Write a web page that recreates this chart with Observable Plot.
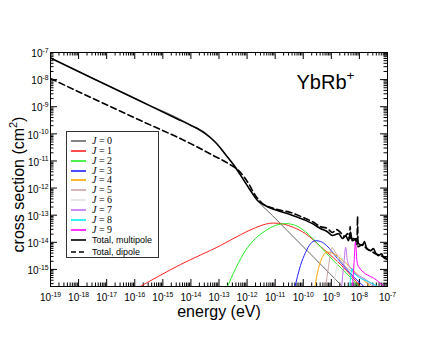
<!DOCTYPE html>
<html><head><meta charset="utf-8">
<script src="https://cdn.jsdelivr.net/npm/d3@7"></script>
<script src="https://cdn.jsdelivr.net/npm/@observablehq/plot@0.6"></script>
<style>
body{margin:0;background:#fff;}
#wrap{position:relative;width:436px;height:337px;font-family:"Liberation Sans",Arial,sans-serif;}
#legend{position:absolute;left:66px;top:131px;width:93px;height:127px;border:1px solid #333;box-sizing:border-box;background:#fff;}
.row{position:absolute;left:0;height:10px;line-height:10px;white-space:nowrap;}
.row svg{position:absolute;left:4px;top:0;}
.row span{position:absolute;left:25px;top:0;font-size:9px;color:#000;}
.row span.j{font-family:"Liberation Serif","Times New Roman",serif;font-size:10px;}
</style></head>
<body><div id="wrap"><div id="legend"></div></div>
<script>
// values stored as [log10(energy / eV), log10(cross section / cm^2)]
const totalMultipole = [[-19,-7.2],[-17.58,-7.91],[-15.79,-8.8],[-14.5,-9.44],[-14.01,-9.68],[-13.48,-9.99],[-13.12,-10.32],[-12.77,-10.76],[-12.41,-11.24],[-12.13,-11.69],[-11.88,-12.09],[-11.63,-12.46],[-11.34,-12.65],[-10.92,-12.83],[-10.45,-12.98],[-9.99,-13.16],[-9.67,-13.31],[-9.39,-13.49],[-9.14,-13.61],[-8.96,-13.75],[-8.74,-13.68],[-8.6,-13.86],[-8.49,-13.75],[-8.39,-13.94],[-8.32,-13.64],[-8.25,-13.94],[-8.1,-13.86],[-8.03,-14.05],[-7.89,-14.12],[-7.82,-13.97],[-7.75,-14.2],[-7.6,-14.31],[-7.5,-14.23],[-7.43,-14.38],[-7.32,-14.49],[-7.21,-14.42],[-7.14,-14.56],[-7.0,-14.64]];
const totalDipole = [[-19,-7.96],[-17.58,-8.65],[-15.79,-9.51],[-14.01,-10.36],[-13.2,-10.8],[-12.66,-11.1],[-12.23,-11.43],[-11.95,-11.83],[-11.7,-12.28],[-11.45,-12.57],[-10.92,-12.79],[-10.45,-12.9],[-9.99,-13.09],[-9.67,-13.24],[-9.39,-13.42],[-9.14,-13.49],[-8.96,-13.64],[-8.82,-13.53],[-8.67,-13.64],[-8.53,-13.79],[-8.42,-13.68],[-8.35,-13.86],[-8.33,-13.42],[-8.3,-13.94],[-8.21,-13.86],[-8.1,-14.01],[-8.085,-14.08],[-8.067,-13.05],[-8.049,-14.16],[-7.89,-14.08],[-7.75,-14.23],[-7.6,-14.31],[-7.43,-14.42],[-7.25,-14.49],[-7.0,-14.6]];
const J0 = [[-19,-7.2],[-17.58,-7.91],[-15.79,-8.8],[-14.01,-9.68],[-13.12,-10.32],[-12.13,-11.69],[-11.63,-12.46],[-11.09,-13.02],[-10.57,-13.57],[-9.63,-14.55],[-8.49,-15.75]];
const J1 = [[-15.94,-15.71],[-14.37,-14.82],[-12.95,-14.12],[-12.23,-13.72],[-11.7,-13.46],[-11.34,-13.33],[-11.06,-13.29],[-10.7,-13.33],[-10.35,-13.45],[-9.92,-13.68],[-9.38,-14.16],[-8.67,-14.82],[-7.89,-15.71]];
const J2 = [[-12.73,-15.71],[-12.41,-14.97],[-12.06,-14.31],[-11.7,-13.86],[-11.34,-13.57],[-10.99,-13.38],[-10.63,-13.31],[-10.27,-13.38],[-9.92,-13.61],[-9.49,-14.05],[-8.92,-14.68],[-8.32,-15.29],[-7.96,-15.71]];
const J3 = [[-10.31,-15.71],[-10.1,-14.86],[-9.92,-14.38],[-9.74,-14.05],[-9.56,-13.94],[-9.38,-13.97],[-9.17,-14.12],[-8.78,-14.6],[-8.21,-15.27],[-7.75,-15.71]];
const J4 = [[-9.6,-15.71],[-9.46,-14.97],[-9.31,-14.53],[-9.14,-14.36],[-8.92,-14.42],[-8.67,-14.6],[-8.21,-15.04],[-7.6,-15.64],[-7.53,-15.71]];
const J5 = [[-9.21,-15.71],[-9.1,-14.9],[-8.98,-14.2],[-8.85,-14.38],[-8.67,-14.68],[-7.96,-15.29],[-7.39,-15.71]];
const J6 = [[-8.92,-15.71],[-8.82,-14.97],[-8.71,-14.45],[-8.57,-14.68],[-8.32,-14.97],[-7.78,-15.41],[-7.25,-15.71]];
const J7 = [[-8.64,-15.71],[-8.55,-14.75],[-8.49,-14.18],[-8.44,-14.6],[-8.35,-14.9],[-7.72,-15.41],[-7.32,-15.71]];
const J8 = [[-8.35,-15.71],[-8.26,-14.97],[-8.21,-15.12],[-7.6,-15.49],[-7.18,-15.71]];
const J9 = [[-8.25,-15.71],[-8.19,-14.75],[-8.14,-13.97],[-8.09,-14.68],[-8.03,-14.9],[-7.37,-15.41],[-7.03,-15.71]];
const partialWaves = [J0,J1,J2,J3,J4,J5,J6,J7,J8,J9];
const waveLabels = ["0","1","2","3","4","5","6","7","8","9"];
const waveColors = ["#666666","#ff2020","#22ee22","#2020ff","#ffa500","#c8a4a4","#e2e2e2","#c070f0","#00f0f0","#ff00ff"];
const totalLabels = ["Total, multipole","Total, dipole"];
const xExponents = [-19,-18,-17,-16,-15,-14,-13,-12,-11,-10,-9,-8,-7];
const yExponents = [-15,-14,-13,-12,-11,-10,-9,-8,-7];
const xDomainLog = [-19,-7];
const yDomainLog = [-15.63,-7];
const titleText = "YbRb^+";
const xLabel = "energy (eV)";
const yLabel = "cross section (cm^2)";

const W=436,H=337,mL=50,mR=49,mT=52,mB=51;
const innerW=W-mL-mR, innerH=H-mT-mB;
const toPts = arr => arr.map(([e,s])=>({E:10**e,S:10**s}));
const xDomain = xDomainLog.map(v=>10**v), yDomain = yDomainLog.map(v=>10**v);
const xMajor = xExponents.map(e=>10**e);
const yMajor = yExponents.map(e=>10**e);
const minorOf = (lo,hi)=>{const out=[];for(let e=Math.floor(lo);e<Math.ceil(hi);e++)for(let k=2;k<=9;k++){const v=k*10**e;if(Math.log10(v)>lo&&Math.log10(v)<hi)out.push(v);}return out;};
const xMinor = minorOf(xDomainLog[0],xDomainLog[1]);
const yMinor = minorOf(yDomainLog[0],yDomainLog[1]);
const MAJ=7, MIN=3.5;

const marks = [];
marks.push(Plot.tickX(xMajor,{x:d=>d,insetTop:innerH-MAJ,stroke:"#000"}));
marks.push(Plot.tickX(xMajor,{x:d=>d,insetBottom:innerH-MAJ,stroke:"#000"}));
marks.push(Plot.tickX(xMinor,{x:d=>d,insetTop:innerH-MIN,stroke:"#000"}));
marks.push(Plot.tickX(xMinor,{x:d=>d,insetBottom:innerH-MIN,stroke:"#000"}));
marks.push(Plot.tickY(yMajor,{y:d=>d,insetRight:innerW-MAJ,stroke:"#000"}));
marks.push(Plot.tickY(yMajor,{y:d=>d,insetLeft:innerW-MAJ,stroke:"#000"}));
marks.push(Plot.tickY(yMinor,{y:d=>d,insetRight:innerW-MIN,stroke:"#000"}));
marks.push(Plot.tickY(yMinor,{y:d=>d,insetLeft:innerW-MIN,stroke:"#000"}));
partialWaves.forEach((w,i)=>{
  marks.push(Plot.line(toPts(w),{x:"E",y:"S",stroke:waveColors[i],strokeWidth:1,curve:"monotone-x",clip:true}));
});
marks.push(Plot.line(toPts(totalDipole),{x:"E",y:"S",stroke:"#000",strokeWidth:1.6,strokeDasharray:"6,3.5",curve:"monotone-x",clip:true}));
marks.push(Plot.line(toPts(totalMultipole),{x:"E",y:"S",stroke:"#000",strokeWidth:1.6,curve:"monotone-x",clip:true}));
marks.push(Plot.frame({stroke:"#000",strokeWidth:1}));
marks.push(Plot.text(xMajor,{x:d=>d,y:yDomain[0],text:d=>"10^"+Math.round(Math.log10(d)),dy:11,fontSize:10,textAnchor:"middle",lineAnchor:"middle",fill:"#000"}));
marks.push(Plot.text(yMajor,{x:xDomain[0],y:d=>d,text:d=>"10^"+Math.round(Math.log10(d)),dx:-2,dy:1.5,fontSize:10,textAnchor:"end",lineAnchor:"middle",fill:"#000"}));
marks.push(Plot.text([titleText],{frameAnchor:"top-left",text:d=>d,dx:246,dy:29.6,fontSize:20,textAnchor:"start",lineAnchor:"middle",fill:"#000"}));
marks.push(Plot.text([xLabel],{frameAnchor:"bottom",text:d=>d,dy:25,fontSize:16,textAnchor:"middle",lineAnchor:"middle",fill:"#000"}));
marks.push(Plot.text([yLabel],{frameAnchor:"left",text:d=>d,dx:-32,dy:15,fontSize:16,rotate:-90,textAnchor:"middle",lineAnchor:"middle",fill:"#000"}));

const chart = Plot.plot({
  width:W,height:H,marginLeft:mL,marginRight:mR,marginTop:mT,marginBottom:mB,
  x:{type:"log",domain:xDomain,axis:null},
  y:{type:"log",domain:yDomain,axis:null},
  style:{fontFamily:"'Liberation Sans',Arial,sans-serif",background:"#fff",color:"#000"},
  marks
});
const wrap=document.getElementById("wrap");
wrap.insertBefore(chart, wrap.firstChild);

const NS="http://www.w3.org/2000/svg";
chart.querySelectorAll("text").forEach(t=>{
  const s=t.textContent;
  const m=s.match(/^([^^]*)\^([-+\w]+)(.*)$/);
  if(!m) return;
  const fs=parseFloat(getComputedStyle(t).fontSize)||10;
  t.textContent="";
  const a=document.createElementNS(NS,"tspan");a.textContent=m[1];t.appendChild(a);
  const b=document.createElementNS(NS,"tspan");b.textContent=m[2];
  b.setAttribute("font-size",(fs*0.68).toFixed(1));b.setAttribute("dy",(-fs*0.42).toFixed(1));t.appendChild(b);
  if(m[3]){const c=document.createElementNS(NS,"tspan");c.textContent=m[3];c.setAttribute("dy",(fs*0.42).toFixed(1));t.appendChild(c);}
});

const legend=document.getElementById("legend");
const rows=[];
waveLabels.forEach((l,i)=>rows.push({html:'<i>J</i> = '+l,color:waveColors[i],dash:null,cls:"j",w:1.6,top:4+i*9.85}));
rows.push({html:totalLabels[0],color:"#000",dash:null,cls:"",w:1.6,top:103});
rows.push({html:totalLabels[1],color:"#000",dash:"5,3",cls:"",w:1.6,top:114.5});
rows.forEach(r=>{
  const d=document.createElement("div");d.className="row";d.style.top=r.top+"px";
  d.innerHTML='<svg width="16" height="10"><line x1="0" x2="15" y1="5" y2="5" stroke="'+r.color+'" stroke-width="'+r.w+'"'+(r.dash?' stroke-dasharray="'+r.dash+'"':'')+'/></svg><span class="'+r.cls+'">'+r.html+'</span>';
  legend.appendChild(d);
});
</script></body></html>
